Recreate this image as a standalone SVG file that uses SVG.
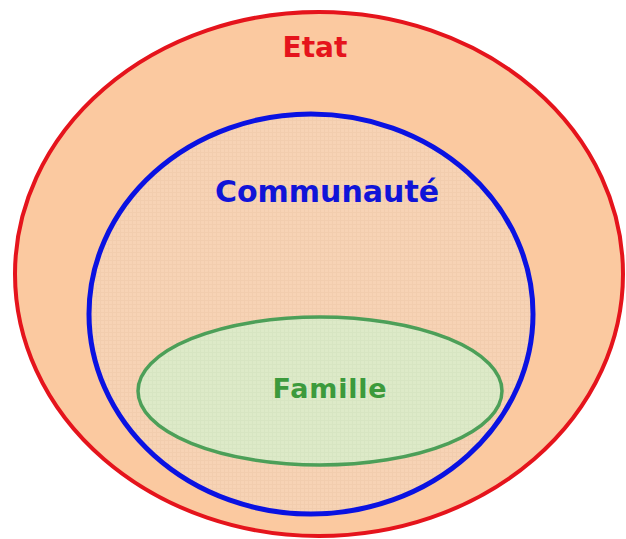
<svg xmlns="http://www.w3.org/2000/svg" width="626" height="539" viewBox="0 0 626 539">
<defs>
<style>
.lbl{font-family:"DejaVu Sans",Verdana,sans-serif;font-weight:bold;text-anchor:middle}
</style>
<pattern id="grid" width="4" height="4" patternUnits="userSpaceOnUse">
<rect width="4" height="4" fill="#f7d3b5"/>
<path d="M0 0.5H4M0.5 0V4" stroke="#efc9a9" stroke-width="1" opacity="0.6"/>
</pattern>
<pattern id="ggrid" width="4" height="4" patternUnits="userSpaceOnUse">
<rect width="4" height="4" fill="#dcebc9"/>
<path d="M0 0.5H4M0.5 0V4" stroke="#d2e3bf" stroke-width="1" opacity="0.6"/>
</pattern>
</defs>
<rect width="626" height="539" fill="#ffffff"/>
<g id="etat">
<ellipse cx="319" cy="274" rx="304" ry="262" fill="#fbc9a0" stroke="#e5141c" stroke-width="4"/>
<text class="lbl" x="315" y="57" font-size="28" fill="#e5141c">Etat</text>
</g>
<g id="communaute">
<ellipse cx="311" cy="314" rx="222" ry="200" fill="url(#grid)" stroke="#0a12e2" stroke-width="5"/>
<text class="lbl" x="327" y="202" font-size="30" fill="#1014d8">Communauté</text>
</g>
<g id="famille">
<ellipse cx="320" cy="391" rx="182" ry="74" fill="url(#ggrid)" fill-opacity="0.95" stroke="#4c9f58" stroke-width="3.5"/>
<text class="lbl" x="330" y="398" font-size="27" letter-spacing="0.8" fill="#3c9a3c">Famille</text>
</g>
<g id="connectors"/>
</svg>
